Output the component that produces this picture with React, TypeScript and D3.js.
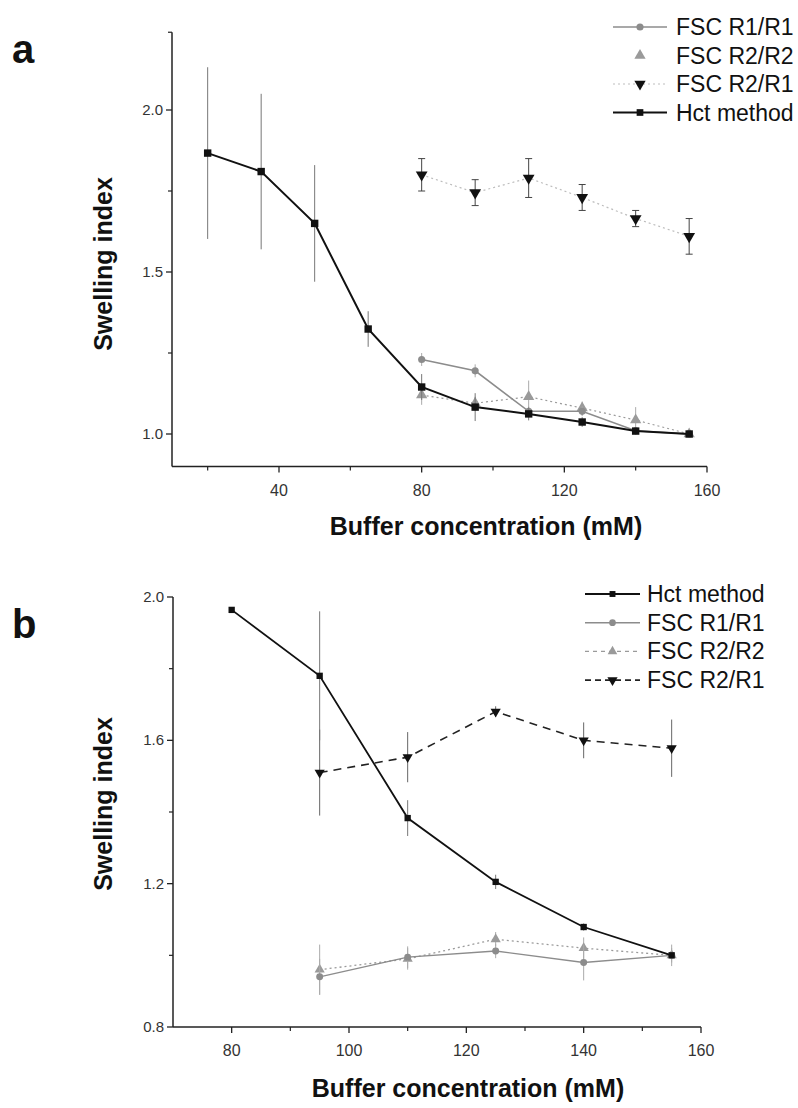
import React from "react";
import * as d3 from "d3";

// ---------- Panel a data ----------
const xA = [20, 35, 50, 65, 80, 95, 110, 125, 140, 155];
const hctA = [1.867, 1.81, 1.65, 1.324, 1.145, 1.083, 1.062, 1.037, 1.009, 1.0];
const hctAErr = [0.265, 0.24, 0.18, 0.055, 0.04, 0.043, 0.02, 0.015, 0.01, 0.005];
const xAFsc = [80, 95, 110, 125, 140, 155];
const r1r1A = [1.23, 1.195, 1.07, 1.07, 1.01, 1.0];
const r1r1AErr = [0.02, 0.02, 0.015, 0.015, 0.01, 0.005];
const r2r2A = [1.12, 1.095, 1.115, 1.08, 1.043, 1.0];
const r2r2AErr = [0.03, 0.02, 0.05, 0.02, 0.04, 0.005];
const r2r1A = [1.8, 1.745, 1.79, 1.73, 1.665, 1.61];
const r2r1AErr = [0.05, 0.04, 0.06, 0.04, 0.025, 0.055];
const xTicksA = [40, 80, 120, 160];
const xMinorA = [20, 60, 100, 140];
const yTicksA = [1.0, 1.5, 2.0];
const yMinorA = [1.25, 1.75, 2.24];
const legendA = ["FSC R1/R1", "FSC R2/R2", "FSC R2/R1", "Hct method"];

// ---------- Panel b data ----------
const xB = [80, 95, 110, 125, 140, 155];
const hctB = [1.964, 1.78, 1.383, 1.205, 1.079, 1.0];
const hctBErr = [0.005, 0.18, 0.05, 0.02, 0.01, 0.005];
const xBFsc = [95, 110, 125, 140, 155];
const r1r1B = [0.94, 0.995, 1.012, 0.98, 1.0];
const r1r1BErr = [0.05, 0.03, 0.02, 0.05, 0.02];
const r2r2B = [0.96, 0.99, 1.045, 1.02, 1.0];
const r2r2BErr = [0.07, 0.03, 0.02, 0.03, 0.03];
const r2r1B = [1.51, 1.553, 1.68, 1.6, 1.578];
const r2r1BErr = [0.12, 0.07, 0.015, 0.05, 0.08];
const xTicksB = [80, 100, 120, 140, 160];
const xMinorB = [90, 110, 130, 150];
const yTicksB = [0.8, 1.2, 1.6, 2.0];
const yMinorB = [1.0, 1.4, 1.8];
const legendB = ["Hct method", "FSC R1/R1", "FSC R2/R2", "FSC R2/R1"];

const FONT = "'Liberation Sans', Arial, Helvetica, sans-serif";

type Sym = "square" | "circle" | "up" | "down";
function symPath(kind: Sym, size: number) {
  const t =
    kind === "square" ? d3.symbolSquare : kind === "circle" ? d3.symbolCircle : d3.symbolTriangle;
  return d3.symbol().type(t).size(size)() as string;
}
function Marker({ x, y, kind, size, fill }: { x: number; y: number; kind: Sym; size: number; fill: string }) {
  return (
    <path
      d={symPath(kind, size)}
      transform={`translate(${x},${y})${kind === "down" ? " rotate(180)" : ""}`}
      fill={fill}
    />
  );
}

type Series = {
  xs: number[];
  ys: number[];
  err: number[];
  stroke: string;
  width: number;
  dash?: string;
  curve?: d3.CurveFactory;
  kind: Sym;
  size: number;
  fill: string;
  errColor: string;
  cap?: number;
  showLine?: boolean;
};

function SeriesG({ s, x, y }: { s: Series; x: d3.ScaleLinear<number, number>; y: d3.ScaleLinear<number, number> }) {
  const pts = s.xs.map((v, i) => [v, s.ys[i]] as [number, number]);
  const line = d3
    .line<[number, number]>()
    .x((d) => x(d[0]))
    .y((d) => y(d[1]))
    .curve(s.curve || d3.curveLinear);
  return (
    <g>
      {pts.map((p, i) => (
        <g key={"e" + i}>
          <line
            x1={x(p[0])}
            x2={x(p[0])}
            y1={y(p[1] - s.err[i])}
            y2={y(p[1] + s.err[i])}
            stroke={s.errColor}
            strokeWidth={1}
          />
          {s.cap ? (
            <>
              <line x1={x(p[0]) - s.cap / 2} x2={x(p[0]) + s.cap / 2} y1={y(p[1] + s.err[i])} y2={y(p[1] + s.err[i])} stroke={s.errColor} strokeWidth={1} />
              <line x1={x(p[0]) - s.cap / 2} x2={x(p[0]) + s.cap / 2} y1={y(p[1] - s.err[i])} y2={y(p[1] - s.err[i])} stroke={s.errColor} strokeWidth={1} />
            </>
          ) : null}
        </g>
      ))}
      {s.showLine !== false && (
        <path d={line(pts) as string} fill="none" stroke={s.stroke} strokeWidth={s.width} strokeDasharray={s.dash} />
      )}
      {pts.map((p, i) => (
        <Marker key={"m" + i} x={x(p[0])} y={y(p[1])} kind={s.kind} size={s.size} fill={s.fill} />
      ))}
    </g>
  );
}

function Axes({
  x, y, xDom, yDom, xTicks, xMinor, yTicks, yMinor, xLabelY, titleX, titleY, yTitleX, yTitleY, fmtY,
}: any) {
  const x0 = x(xDom[0]);
  const x1 = x(xDom[1]);
  const yb = y(yDom[0]);
  const yt = y(yDom[1]);
  return (
    <g fontFamily={FONT}>
      <line x1={x0} x2={x0} y1={yb} y2={yt} stroke="#222" strokeWidth={1.5} />
      <line x1={x0} x2={x1} y1={yb} y2={yb} stroke="#222" strokeWidth={1.5} />
      {xTicks.map((t: number) => (
        <g key={"xt" + t}>
          <line x1={x(t)} x2={x(t)} y1={yb} y2={yb + 6} stroke="#222" strokeWidth={1.3} />
          <text x={x(t)} y={xLabelY} textAnchor="middle" fontSize={16} fill="#333">{t}</text>
        </g>
      ))}
      {xMinor.map((t: number) => (
        <line key={"xm" + t} x1={x(t)} x2={x(t)} y1={yb} y2={yb + 4} stroke="#222" strokeWidth={1.2} />
      ))}
      {yTicks.map((t: number) => (
        <g key={"yt" + t}>
          <line x1={x0 - 6} x2={x0} y1={y(t)} y2={y(t)} stroke="#222" strokeWidth={1.3} />
          <text x={x0 - 9} y={y(t) + 5} textAnchor="end" fontSize={15} fill="#333">{fmtY(t)}</text>
        </g>
      ))}
      {yMinor.map((t: number) => (
        <line key={"ym" + t} x1={x0 - 4} x2={x0} y1={y(t)} y2={y(t)} stroke="#222" strokeWidth={1.2} />
      ))}
      <text x={titleX} y={titleY} textAnchor="middle" fontSize={25} fontWeight="bold" fill="#111">
        Buffer concentration (mM)
      </text>
      <text
        transform={`translate(${yTitleX},${yTitleY}) rotate(-90)`}
        textAnchor="middle"
        fontSize={25}
        fontWeight="bold"
        fill="#111"
      >
        Swelling index
      </text>
    </g>
  );
}

function LegendRow({ lx0, lx1, ly, tx, label, kind, size, fill, stroke, width, dash, showLine }: any) {
  const mx = (lx0 + lx1) / 2;
  return (
    <g>
      {showLine !== false && (
        <line x1={lx0} x2={lx1} y1={ly} y2={ly} stroke={stroke} strokeWidth={width} strokeDasharray={dash} />
      )}
      <Marker x={mx} y={ly} kind={kind} size={size} fill={fill} />
      <text x={tx} y={ly + 8} fontSize={23} fill="#111" fontFamily={FONT}>{label}</text>
    </g>
  );
}

export default function App() {
  // Panel a scales
  const xa = d3.scaleLinear().domain([10, 160]).range([172, 707]);
  const ya = d3.scaleLinear().domain([1, 2]).range([434, 110]);
  // Panel b scales
  const xb = d3.scaleLinear().domain([70, 160]).range([173, 701]);
  const yb = d3.scaleLinear().domain([0.8, 2.0]).range([1027, 597]);

  const seriesA: Series[] = [
    { xs: xAFsc, ys: r2r1A, err: r2r1AErr, stroke: "#bdbdbd", width: 1.2, dash: "2,3", kind: "down", size: 60, fill: "#111", errColor: "#444", cap: 7 },
    { xs: xAFsc, ys: r2r2A, err: r2r2AErr, stroke: "#9a9a9a", width: 1.2, dash: "2,3", kind: "up", size: 55, fill: "#9a9a9a", errColor: "#aaa" },
    { xs: xAFsc, ys: r1r1A, err: r1r1AErr, stroke: "#8c8c8c", width: 1.6, kind: "circle", size: 40, fill: "#8c8c8c", errColor: "#aaa" },
    { xs: xA, ys: hctA, err: hctAErr, stroke: "#111", width: 2, kind: "square", size: 55, fill: "#111", errColor: "#777" },
  ];

  const seriesB: Series[] = [
    { xs: xBFsc, ys: r2r2B, err: r2r2BErr, stroke: "#9a9a9a", width: 1.3, dash: "2,3", kind: "up", size: 45, fill: "#9a9a9a", errColor: "#aaa" },
    { xs: xBFsc, ys: r1r1B, err: r1r1BErr, stroke: "#8c8c8c", width: 1.4, kind: "circle", size: 38, fill: "#8c8c8c", errColor: "#aaa" },
    { xs: xBFsc, ys: r2r1B, err: r2r1BErr, stroke: "#222", width: 1.6, dash: "8,6", kind: "down", size: 45, fill: "#111", errColor: "#666" },
    { xs: xB, ys: hctB, err: hctBErr, stroke: "#111", width: 1.8, kind: "square", size: 40, fill: "#111", errColor: "#777" },
  ];

  const legA = [
    { kind: "circle", size: 40, fill: "#8c8c8c", stroke: "#8c8c8c", width: 1.6 },
    { kind: "up", size: 55, fill: "#9a9a9a", stroke: "#ddd", width: 1, dash: "2,3", showLine: false },
    { kind: "down", size: 55, fill: "#111", stroke: "#bdbdbd", width: 1.2, dash: "2,3" },
    { kind: "square", size: 45, fill: "#111", stroke: "#111", width: 2 },
  ];
  const legB = [
    { kind: "square", size: 35, fill: "#111", stroke: "#111", width: 1.8 },
    { kind: "circle", size: 35, fill: "#8c8c8c", stroke: "#8c8c8c", width: 1.4 },
    { kind: "up", size: 40, fill: "#9a9a9a", stroke: "#9a9a9a", width: 1.2, dash: "4,4" },
    { kind: "down", size: 45, fill: "#111", stroke: "#222", width: 1.6, dash: "6,4" },
  ];

  return (
    <svg width={798} height={1108} style={{ position: "absolute", left: 0, top: 0, background: "#fff" }}>
      <rect width={798} height={1108} fill="#fff" />
      {/* Panel a */}
      <text x={12} y={63} fontSize={40} fontWeight="bold" fontFamily={FONT} fill="#111">a</text>
      <Axes
        x={xa} y={ya} xDom={[10, 160]} yDom={[0.9, 2.24]}
        xTicks={xTicksA} xMinor={xMinorA} yTicks={yTicksA} yMinor={yMinorA}
        xLabelY={496} titleX={486} titleY={535} yTitleX={112} yTitleY={264}
        fmtY={(t: number) => t.toFixed(1)}
      />
      {seriesA.map((s, i) => <SeriesG key={i} s={s} x={xa} y={ya} />)}
      {legendA.map((lab, i) => (
        <LegendRow key={lab} lx0={613} lx1={667} ly={27 + i * 28.5} tx={676} label={lab} {...legA[i]} />
      ))}

      {/* Panel b */}
      <text x={12} y={638} fontSize={40} fontWeight="bold" fontFamily={FONT} fill="#111">b</text>
      <Axes
        x={xb} y={yb} xDom={[70, 160]} yDom={[0.8, 2.0]}
        xTicks={xTicksB} xMinor={xMinorB} yTicks={yTicksB} yMinor={yMinorB}
        xLabelY={1056} titleX={468} titleY={1097} yTitleX={112} yTitleY={804}
        fmtY={(t: number) => t.toFixed(1)}
      />
      {seriesB.map((s, i) => <SeriesG key={i} s={s} x={xb} y={yb} />)}
      {legendB.map((lab, i) => (
        <LegendRow key={lab} lx0={585} lx1={640} ly={594 + i * 28.7} tx={647} label={lab} {...legB[i]} />
      ))}
    </svg>
  );
}
